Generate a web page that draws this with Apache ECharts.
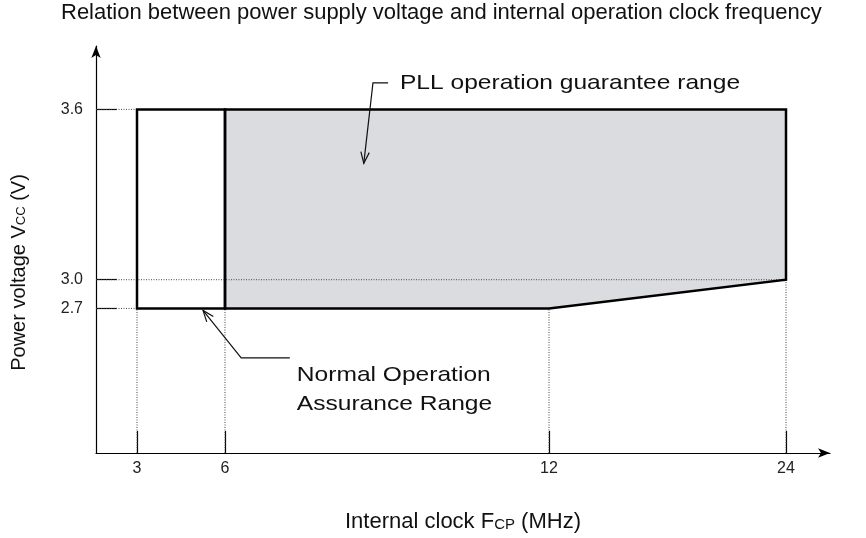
<!DOCTYPE html>
<html>
<head>
<meta charset="utf-8">
<script src="https://cdn.jsdelivr.net/npm/echarts@6/dist/echarts.min.js"></script>
<style>html,body{margin:0;padding:0;background:#fff}#chart{width:866px;height:538px}</style>
</head>
<body>
<div id="chart"></div>
<script>
// ---------------- data ----------------
const freqTicks = [3, 6, 12, 24];                 // internal clock, MHz
const freqTickLabels = ['3', '6', '12', '24'];
const voltTicks = [2.7, 3.0, 3.6];                // power voltage, V
const voltTickLabels = ['2.7', '3.0', '3.6'];

// Normal Operation Assurance Range (outline)
const normalFreq = [3, 6, 6, 3];
const normalVolt = [2.7, 2.7, 3.6, 3.6];

// PLL operation guarantee range (shaded polygon)
const pllFreq = [6, 12, 24, 24, 6];
const pllVolt = [2.7, 2.7, 3.0, 3.6, 3.6];

// dotted guides: vertical ones rise from the axis to this voltage,
// horizontal ones run from the axis to this frequency
const vGuideTop = [2.7, 2.7, 2.7, 3.0];
const hGuideEnd = [3, 24, 3];

// annotation leaders (arrow tip first), in MHz / V
const annotFreq = [[8.57, 8.74, 9.02], [5.25, 6.30, 7.20]];
const annotVolt = [[3.41, 3.70, 3.70], [2.693, 2.529, 2.529]];
const annotTextAt = [[9.24, 3.70], [7.33, 2.419]];
const annotText = ['PLL operation guarantee range', 'Normal Operation\nAssurance Range'];

// ------------- schematic (non-linear) axis scales -------------
const xScale = [[0, 0], [3, 41], [6, 129], [12, 453], [24, 690], [27, 734]];
const yScale = [[2.2, 0], [2.7, 146], [3.0, 175], [3.6, 347], [3.84, 411]];
function warp(stops, v) {
  let i = 0;
  while (i < stops.length - 2 && v > stops[i + 1][0]) i++;
  const a = stops[i], b = stops[i + 1];
  return a[1] + (v - a[0]) * (b[1] - a[1]) / (b[0] - a[0]);
}
const fx = f => warp(xScale, f);
const fy = v => warp(yScale, v);
const X_MAX = xScale[xScale.length - 1][1];
const Y_MAX = yScale[yScale.length - 1][1];

const FONT = '"Liberation Sans", Arial, Helvetica, sans-serif';
const INK = '#111';

function lookupLabel(vals, labels, mapFn, v) {
  for (let i = 0; i < vals.length; i++) if (Math.abs(mapFn(vals[i]) - v) < 0.5) return labels[i];
  return '';
}

function polygonRender(freqs, volts, style) {
  return function (params, api) {
    return {
      type: 'polygon',
      shape: { points: freqs.map((f, i) => api.coord([fx(f), fy(volts[i])])) },
      style: style
    };
  };
}

// guides data in axis units
const guideData = [];
freqTicks.forEach((f, i) => guideData.push([fx(f), 0, fx(f), fy(vGuideTop[i])]));
voltTicks.forEach((v, j) => guideData.push([0, fy(v), fx(hGuideEnd[j]), fy(v)]));

const chart = echarts.init(document.getElementById('chart'), null, { renderer: 'canvas' });
chart.setOption({
  backgroundColor: '#fff',
  animation: false,
  title: {
    text: 'Relation between power supply voltage and internal operation clock frequency',
    left: 61, top: 2, padding: 0,
    textStyle: { fontFamily: FONT, fontSize: 22, fontWeight: 'normal', color: INK }
  },
  grid: { left: 96, right: 866 - 96 - X_MAX, top: 46, bottom: 538 - 46 - Y_MAX, containLabel: false },
  xAxis: {
    type: 'value', min: 0, max: X_MAX,
    splitLine: { show: false },
    axisLine: { show: true, onZero: false, symbol: ['none', 'arrow'], symbolSize: [7, 12],
      lineStyle: { color: '#000', width: 1.2 } },
    axisTick: { show: true, inside: true, length: 22, customValues: freqTicks.map(fx),
      lineStyle: { color: '#000', width: 1.2 } },
    axisLabel: { show: true, customValues: freqTicks.map(fx), margin: 8,
      formatter: v => lookupLabel(freqTicks, freqTickLabels, fx, v),
      fontFamily: FONT, fontSize: 16, color: '#222' },
    name: '{a|Internal clock F}{s|CP}{a| (MHz)}',
    nameLocation: 'middle', nameGap: 55,
    nameTextStyle: { rich: {
      a: { fontFamily: FONT, fontSize: 22, color: INK, verticalAlign: 'bottom', lineHeight: 25 },
      s: { fontFamily: FONT, fontSize: 15, color: INK, verticalAlign: 'bottom', lineHeight: 25, padding: [0, 0, 1, 0] }
    } }
  },
  yAxis: {
    type: 'value', min: 0, max: Y_MAX,
    splitLine: { show: false },
    axisLine: { show: true, onZero: false, symbol: ['none', 'arrow'], symbolSize: [7, 12],
      lineStyle: { color: '#000', width: 1.2 } },
    axisTick: { show: true, inside: true, length: 21, customValues: voltTicks.map(fy),
      lineStyle: { color: '#000', width: 1.2 } },
    axisLabel: { show: true, customValues: voltTicks.map(fy), margin: 13,
      formatter: v => lookupLabel(voltTicks, voltTickLabels, fy, v),
      fontFamily: FONT, fontSize: 16, color: '#222', padding: [0, 0, 6, 0] },
    name: '{a|Power voltage V}{s|CC}{a| (V)}',
    nameLocation: 'middle', nameGap: 67,
    nameTextStyle: { padding: [0, 46, 0, 0], rich: {
      a: { fontFamily: FONT, fontSize: 20, color: INK, verticalAlign: 'bottom', lineHeight: 23 },
      s: { fontFamily: FONT, fontSize: 13, color: INK, verticalAlign: 'bottom', lineHeight: 23, padding: [0, 0, 1, 0] }
    } }
  },
  series: [
    {
      name: 'PLL operation guarantee range (fill)', type: 'custom', z: 1,
      data: [[fx(pllFreq[0]), fy(pllVolt[0])]],
      renderItem: polygonRender(pllFreq, pllVolt, { fill: '#dbdce0', stroke: null })
    },
    {
      name: 'guides', type: 'custom', z: 2,
      data: guideData,
      renderItem: function (params, api) {
        const a = api.coord([api.value(0), api.value(1)]);
        const b = api.coord([api.value(2), api.value(3)]);
        return { type: 'line', shape: { x1: a[0], y1: a[1], x2: b[0], y2: b[1] },
          style: { stroke: '#444', lineWidth: 1, lineDash: [1, 1.5] } };
      }
    },
    {
      name: 'PLL operation guarantee range', type: 'custom', z: 3,
      data: [[fx(pllFreq[0]), fy(pllVolt[0])]],
      renderItem: polygonRender(pllFreq, pllVolt, { fill: 'none', stroke: '#000', lineWidth: 2.5, lineJoin: 'miter' })
    },
    {
      name: 'Normal Operation Assurance Range', type: 'custom', z: 3,
      data: [[fx(normalFreq[0]), fy(normalVolt[0])]],
      renderItem: polygonRender(normalFreq, normalVolt, { fill: 'none', stroke: '#000', lineWidth: 2.5, lineJoin: 'miter' })
    },
    {
      name: 'annotations', type: 'custom', z: 4,
      data: annotText.map((t, i) => [fx(annotTextAt[i][0]), fy(annotTextAt[i][1])]),
      renderItem: function (params, api) {
        const i = params.dataIndex;
        const pts = annotFreq[i].map((f, k) => api.coord([fx(f), fy(annotVolt[i][k])]));
        const tip = pts[0], prev = pts[1];
        const ang = Math.atan2(prev[1] - tip[1], prev[0] - tip[0]);
        const L = 12, spread = 0.36;
        const h1 = [tip[0] + L * Math.cos(ang + spread), tip[1] + L * Math.sin(ang + spread)];
        const h2 = [tip[0] + L * Math.cos(ang - spread), tip[1] + L * Math.sin(ang - spread)];
        const tp = api.coord([fx(annotTextAt[i][0]), fy(annotTextAt[i][1])]);
        return {
          type: 'group',
          children: [
            { type: 'polyline', shape: { points: pts }, style: { stroke: INK, lineWidth: 1.2, fill: 'none' } },
            { type: 'polyline', shape: { points: [h1, tip, h2] }, style: { stroke: INK, lineWidth: 1.2, fill: 'none' } },
            { type: 'text', x: tp[0], y: tp[1], scaleX: 1.17,
              style: { text: annotText[i], fontFamily: FONT, fontSize: 21, fill: INK,
                align: 'left', verticalAlign: 'middle', lineHeight: 29 } }
          ]
        };
      }
    }
  ]
});
</script>
</body>
</html>
